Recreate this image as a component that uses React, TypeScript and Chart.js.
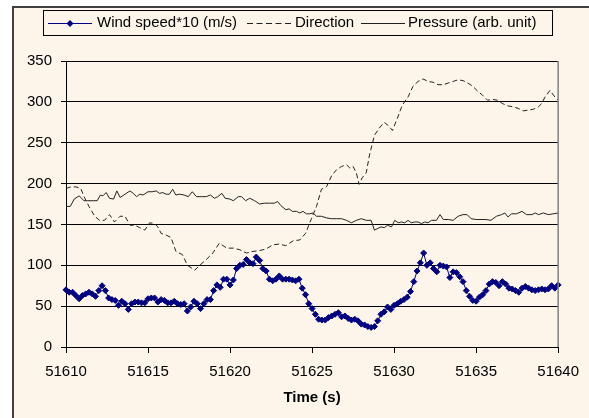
import React, { useEffect, useRef } from "react";
import { Chart, registerables } from "chart.js";

Chart.register(...registerables);

// ---- data ----
const windStart = 51610;
const windStep = 0.2;
const windSpeed = [
  70, 67, 67, 63, 59, 63, 65, 67, 65, 62,
  69, 75, 69, 60, 58, 57, 51, 56, 53, 46,
  53, 55, 55, 54, 54, 59, 60, 60, 55, 58,
  57, 54, 54, 56, 53, 52, 53, 44, 49, 56,
  53, 47, 53, 58, 58, 69, 76, 73, 83, 83,
  76, 82, 96, 100, 101, 107, 103, 102, 110, 106,
  96, 93, 83, 81, 83, 87, 83, 83, 83,
  82, 81, 83, 72, 64, 53, 47, 40, 34, 33,
  33, 36, 38, 40, 42, 37, 38, 35, 33, 34,
  32, 28, 27, 25, 24, 25, 32, 40, 43, 49,
  46, 51, 53, 56, 58, 61, 68, 80, 93, 103,
  115, 100, 103, 96, 92, 100, 99, 98, 85, 92,
  91, 86, 80, 69, 62, 57, 56, 61, 64, 69,
  77, 80, 79, 75, 80, 77, 72, 71, 69, 67,
  72, 74, 72, 70, 69, 70, 71, 70, 71, 75,
  72, 76,
];

const dirTime = [
  51610.0, 51610.3, 51610.6, 51610.9, 51611.1, 51611.4, 51611.75, 51612.05, 51612.35, 51612.65,
  51612.95, 51613.3, 51613.6, 51613.9, 51614.2, 51614.5, 51614.8, 51615.1, 51615.4, 51615.6,
  51615.8, 51616.1, 51616.4, 51616.7, 51617.1, 51617.4, 51617.85, 51618.15, 51618.55, 51618.95,
  51619.35, 51619.8, 51620.2, 51620.6, 51621.0, 51621.4, 51621.8, 51622.2, 51622.6, 51623.0,
  51623.4, 51623.85, 51624.25, 51624.6, 51624.96, 51625.27, 51625.57, 51625.88, 51626.2, 51626.5,
  51626.8, 51627.1, 51627.3, 51627.5, 51627.7, 51627.87, 51628.05, 51628.3, 51628.5, 51628.8,
  51629.1, 51629.4, 51629.7, 51629.9, 51630.2, 51630.5, 51630.85, 51631.15, 51631.46, 51631.77,
  51632.07, 51632.38, 51632.68, 51632.99, 51633.3, 51633.6, 51633.9, 51634.2, 51634.5, 51634.8,
  51635.1, 51635.4, 51635.7, 51636.0, 51636.3, 51636.6, 51636.95, 51637.26, 51637.56, 51637.87,
  51638.2, 51638.5, 51638.8, 51639.0, 51639.2, 51639.5, 51639.8, 51640.0,
];
const dirValue = [
  194, 196, 196, 194, 184, 172, 160, 155, 155, 162,
  153, 160, 160, 149, 149, 146, 143, 152, 151, 147,
  139, 137, 134, 117, 113, 100, 94, 100, 107, 115,
  127, 121, 121, 119, 115, 117, 118, 120, 125, 126,
  124, 130, 131, 139, 157, 172, 193, 196, 210, 217,
  221, 223, 219, 221, 213, 199, 207, 213, 235, 259,
  268, 275, 270, 265, 280, 296, 306, 319, 325, 328,
  325, 324, 321, 321, 323, 325, 327, 326, 323, 319,
  313, 308, 302, 303, 302, 298, 295, 294, 292, 289,
  290, 291, 294, 298, 306, 314, 306, 302,
];

const presTime = [
  51610.0, 51610.26, 51610.5, 51610.8, 51611.1, 51611.3, 51611.65, 51611.9, 51612.1, 51612.25,
  51612.45, 51612.65, 51612.9, 51613.1, 51613.3, 51613.6, 51613.9, 51614.1, 51614.3, 51614.5,
  51614.7, 51615.0, 51615.25, 51615.5, 51615.7, 51615.9, 51616.1, 51616.3, 51616.5, 51616.7,
  51616.9, 51617.2, 51617.45, 51617.7, 51617.95, 51618.25, 51618.55, 51618.8, 51619.05, 51619.25,
  51619.5, 51619.7, 51620.0, 51620.2, 51620.5, 51620.7, 51620.95, 51621.2, 51621.5, 51621.8,
  51622.1, 51622.4, 51622.7, 51622.9, 51623.1, 51623.4, 51623.6, 51623.8, 51624.05, 51624.25,
  51624.45, 51624.65, 51624.85, 51625.06, 51625.27, 51625.57, 51625.88, 51626.18, 51626.5, 51626.8,
  51627.1, 51627.4, 51627.7, 51628.0, 51628.3, 51628.6, 51628.8, 51629.0, 51629.2, 51629.4,
  51629.6, 51629.84, 51630.04, 51630.25, 51630.45, 51630.65, 51630.85, 51631.05, 51631.26, 51631.46,
  51631.67, 51631.87, 51632.07, 51632.28, 51632.58, 51632.8, 51633.0, 51633.3, 51633.6, 51633.9,
  51634.2, 51634.45, 51634.7, 51635.0, 51635.3, 51635.6, 51635.9, 51636.24, 51636.55, 51636.75,
  51636.95, 51637.15, 51637.46, 51637.8, 51638.07, 51638.4, 51638.6, 51638.8, 51639.1, 51639.4,
  51639.7, 51640.0,
];
const presValue = [
  172, 172, 181, 185, 179, 179, 179, 179, 186, 185,
  189, 182, 181, 191, 183, 187, 191, 188, 184, 187,
  186, 190, 190, 191, 188, 189, 187, 187, 193, 186,
  187, 186, 184, 190, 184, 184, 184, 186, 182, 184,
  188, 182, 181, 179, 184, 184, 179, 182, 179, 175,
  176, 176, 176, 178, 173, 168, 169, 166, 166, 164,
  166, 163, 163, 164, 160, 160, 158, 157, 157, 157,
  155, 152, 155, 157, 155, 155, 143, 145, 147, 146,
  149, 147, 155, 152, 153, 152, 155, 152, 153, 153,
  151, 153, 152, 155, 155, 162, 156, 156, 155, 160,
  162, 162, 157, 156, 156, 156, 155, 160, 162, 164,
  159, 163, 163, 166, 162, 162, 164, 162, 164, 162,
  163, 164,
];

const xTicks = [51610, 51615, 51620, 51625, 51630, 51635, 51640];
const yTicks = [0, 50, 100, 150, 200, 250, 300, 350];
const legendLabels = ["Wind speed*10 (m/s)", "Direction", "Pressure (arb. unit)"];
const xTitle = "Time (s)";

const FONT = '"Liberation Sans", Arial, Helvetica, sans-serif';
const NAVY = "#000080";
const LINE = "#222222";

export default function App() {
  const ref = useRef<HTMLCanvasElement | null>(null);

  useEffect(() => {
    const canvas = ref.current;
    if (!canvas) return;

    const overlay = {
      id: "overlay",
      afterDraw(chart: any) {
        const c = chart.ctx as CanvasRenderingContext2D;
        const area = chart.chartArea;
        c.save();
        // plot area right border
        c.strokeStyle = "#808080";
        c.lineWidth = 1.5;
        c.beginPath();
        c.moveTo(area.right, area.top);
        c.lineTo(area.right, area.bottom);
        c.stroke();

        // legend box
        c.strokeStyle = "#000";
        c.lineWidth = 1;
        c.strokeRect(43.5, 10.5, 509, 25);
        const ly = 23.5;
        c.font = `15px ${FONT}`;
        c.fillStyle = "#000";
        c.textBaseline = "middle";
        c.textAlign = "left";

        // wind sample
        c.strokeStyle = NAVY;
        c.beginPath();
        c.moveTo(48, ly);
        c.lineTo(92, ly);
        c.stroke();
        c.fillStyle = NAVY;
        c.beginPath();
        c.moveTo(70 - 3.5, ly);
        c.lineTo(70, ly - 3.5);
        c.lineTo(70 + 3.5, ly);
        c.lineTo(70, ly + 3.5);
        c.closePath();
        c.fill();
        c.fillStyle = "#000";
        c.fillText(legendLabels[0], 97, 22.5);

        // direction sample
        c.strokeStyle = LINE;
        c.setLineDash([6, 3.5]);
        c.beginPath();
        c.moveTo(247, ly);
        c.lineTo(291, ly);
        c.stroke();
        c.setLineDash([]);
        c.fillText(legendLabels[1], 295, 22.5);

        // pressure sample
        c.beginPath();
        c.moveTo(361, ly);
        c.lineTo(405, ly);
        c.stroke();
        c.fillText(legendLabels[2], 408, 22.5);
        c.restore();
      },
    };

    const chart = new Chart(canvas, {
      type: "line",
      data: {
        datasets: [
          {
            label: legendLabels[0],
            data: windSpeed.map((v, i) => ({ x: windStart + i * windStep, y: v })),
            borderColor: NAVY,
            backgroundColor: NAVY,
            borderWidth: 1,
            pointStyle: "rectRot",
            pointRadius: 3,
            pointBorderWidth: 1,
            pointBackgroundColor: NAVY,
            pointBorderColor: NAVY,
            tension: 0,
            clip: false,
          } as any,
          {
            label: legendLabels[1],
            data: dirTime.map((t, i) => ({ x: t, y: dirValue[i] })),
            borderColor: LINE,
            borderWidth: 1,
            borderDash: [5, 3],
            pointRadius: 0,
            tension: 0,
            clip: false,
          } as any,
          {
            label: legendLabels[2],
            data: presTime.map((t, i) => ({ x: t, y: presValue[i] })),
            borderColor: LINE,
            borderWidth: 1,
            pointRadius: 0,
            tension: 0,
            clip: false,
          } as any,
        ],
      },
      options: {
        animation: false,
        responsive: false,
        devicePixelRatio: 1,
        events: [],
        layout: { padding: { left: 0, right: 30, top: 61, bottom: 0 } },
        plugins: {
          legend: { display: false },
          tooltip: { enabled: false },
        },
        scales: {
          x: {
            type: "linear",
            min: 51610,
            max: 51640,
            afterBuildTicks: (s: any) => {
              s.ticks = xTicks.map((v) => ({ value: v }));
            },
            afterFit: (s: any) => {
              s.height = 71;
            },
            ticks: {
              color: "#000",
              font: { family: FONT, size: 15 },
              padding: 10,
              maxRotation: 0,
              autoSkip: false,
              callback: (v: any) => String(v),
            },
            grid: {
              drawOnChartArea: false,
              drawTicks: true,
              tickLength: 6,
              color: "#000",
              lineWidth: 1,
            },
            border: { display: true, color: "#000", width: 1 },
            title: {
              display: true,
              text: xTitle,
              color: "#000",
              font: { family: FONT, size: 15, weight: "bold" },
              padding: { top: 0, bottom: 11 },
            },
          },
          y: {
            type: "linear",
            min: 0,
            max: 350,
            afterBuildTicks: (s: any) => {
              s.ticks = yTicks.map((v) => ({ value: v }));
            },
            afterFit: (s: any) => {
              s.width = 66;
            },
            ticks: {
              color: "#000",
              font: { family: FONT, size: 15 },
              padding: 9,
              callback: (v: any) => String(v),
            },
            grid: {
              color: "#000",
              lineWidth: 1,
              tickLength: 5,
              drawTicks: true,
            },
            border: { display: true, color: "#000", width: 1 },
          },
        },
      } as any,
      plugins: [overlay],
    });

    return () => chart.destroy();
  }, []);

  return (
    <div
      style={{
        position: "fixed",
        left: 0,
        top: 0,
        width: 589,
        height: 418,
        background: "#ffffff",
        overflow: "hidden",
      }}
    >
      <div
        style={{
          position: "absolute",
          left: 12,
          top: 6,
          width: 800,
          height: 600,
          background: "#FDF5E9",
          borderLeft: "2px solid #404040",
          borderTop: "2px solid #404040",
        }}
      />
      <canvas
        ref={ref}
        width={589}
        height={418}
        style={{ position: "absolute", left: 0, top: 0, width: 589, height: 418 }}
      />
    </div>
  );
}
